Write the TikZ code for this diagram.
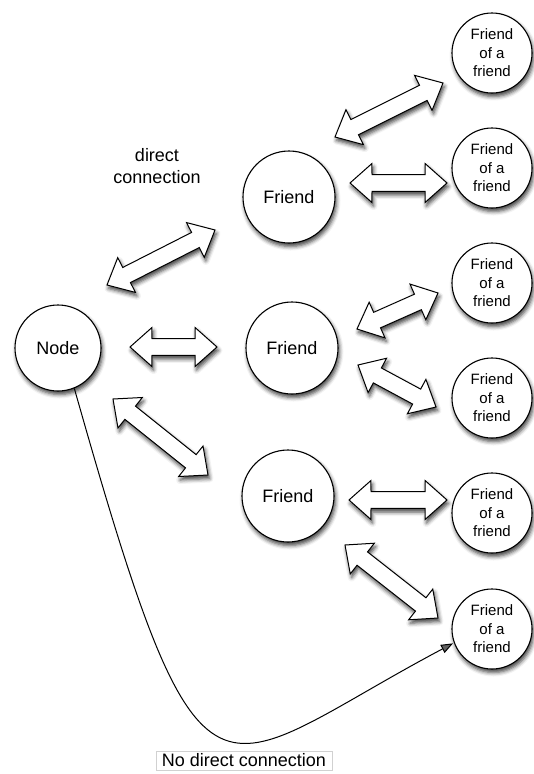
\documentclass[tikz,border=0pt]{standalone}
\usepackage{fontspec}
\setmainfont{Liberation Sans}
\usetikzlibrary{calc,arrows.meta,shadows.blur}

\tikzset{
  softshadow/.style={blur shadow={shadow xshift=1.5pt, shadow yshift=-3.5pt,
      shadow blur radius=4pt, shadow opacity=75}},
  bubble/.style={circle, draw=black, line width=1.1pt, fill=white,
      inner sep=0pt, minimum size=#1, align=center, softshadow},
  mainlabel/.style={font=\fontsize{18}{21.6}\selectfont},
  smalllabel/.style={font=\fontsize{15}{18.5}\selectfont},
  blockarrow/.style={draw=black, line width=1pt, fill=white,
      line join=miter, softshadow},
  curvy/.style={line width=1pt, -{Triangle[length=12pt,width=9pt]}},
}

% Hollow two-headed block arrow between two named points.
% Head length 22pt, head half-width 19.5pt, shaft half-width 8.5pt.
\newcommand\twoheaded[2]{%
  \path[blockarrow] let \p1=(#1), \p2=(#2), \p3=($(#2)-(#1)$),
      \n1={atan2(\y3,\x3)} in
    (\p1)
    -- ($(\p1)+(\n1+41.6:29.39pt)$)
    -- ($(\p1)+(\n1+21.1:23.58pt)$)
    -- ($(\p2)+(\n1+158.9:23.58pt)$)
    -- ($(\p2)+(\n1+138.4:29.39pt)$)
    -- (\p2)
    -- ($(\p2)+(\n1-138.4:29.39pt)$)
    -- ($(\p2)+(\n1-158.9:23.58pt)$)
    -- ($(\p1)+(\n1-21.1:23.58pt)$)
    -- ($(\p1)+(\n1-41.6:29.39pt)$)
    -- cycle;}

\begin{document}
\begin{tikzpicture}[x=1pt, y=-1pt]
  \useasboundingbox (0,0) rectangle (533,774);

  % circles
  \node[bubble=86, mainlabel] (node) at (58,348) {Node};
  \node[bubble=92, mainlabel] (f1) at (289,197) {Friend};
  \node[bubble=92, mainlabel] (f2) at (292,348) {Friend};
  \node[bubble=92, mainlabel] (f3) at (288,496) {Friend};
  \node[bubble=80, smalllabel] (ff1) at (492,53)  {Friend\\of a\\friend};
  \node[bubble=80, smalllabel] (ff2) at (492,168) {Friend\\of a\\friend};
  \node[bubble=80, smalllabel] (ff3) at (492,283) {Friend\\of a\\friend};
  \node[bubble=80, smalllabel] (ff4) at (492,398) {Friend\\of a\\friend};
  \node[bubble=80, smalllabel] (ff5) at (492,513) {Friend\\of a\\friend};
  \node[bubble=80, smalllabel] (ff6) at (492,629) {Friend\\of a\\friend};

  % ends of the block arrows
  \coordinate (a1s) at (107,285);  \coordinate (a1e) at (215,230);
  \coordinate (a2s) at (130,347);  \coordinate (a2e) at (217,347);
  \coordinate (a3s) at (113,399);  \coordinate (a3e) at (208,475);
  \coordinate (b1s) at (335,137);  \coordinate (b1e) at (443,83);
  \coordinate (b2s) at (350,183);  \coordinate (b2e) at (447,183);
  \coordinate (b3s) at (357,329);  \coordinate (b3e) at (438,293);
  \coordinate (b4s) at (358,365);  \coordinate (b4e) at (436,407);
  \coordinate (b5s) at (349,500);  \coordinate (b5e) at (447,500);
  \coordinate (b6s) at (345,545);  \coordinate (b6e) at (438,618);

  \twoheaded{a1s}{a1e}
  \twoheaded{a2s}{a2e}
  \twoheaded{a3s}{a3e}
  \twoheaded{b1s}{b1e}
  \twoheaded{b2s}{b2e}
  \twoheaded{b3s}{b3e}
  \twoheaded{b4s}{b4e}
  \twoheaded{b5s}{b5e}
  \twoheaded{b6s}{b6e}

  % labels
  \node[mainlabel, align=center, inner sep=0pt] (direct) at (157,166)
    {direct\\connection};
  \node[mainlabel, draw=black!18, line width=0.6pt, inner xsep=6pt,
        inner ysep=3pt] (nodirect) at (244,760.5) {No direct connection};

  % indirect link from the node to a friend of a friend
  \draw[curvy, shorten >=1pt] (node.292) .. controls (205,850) and (210,772) .. (ff6.200);
\end{tikzpicture}
\end{document}
